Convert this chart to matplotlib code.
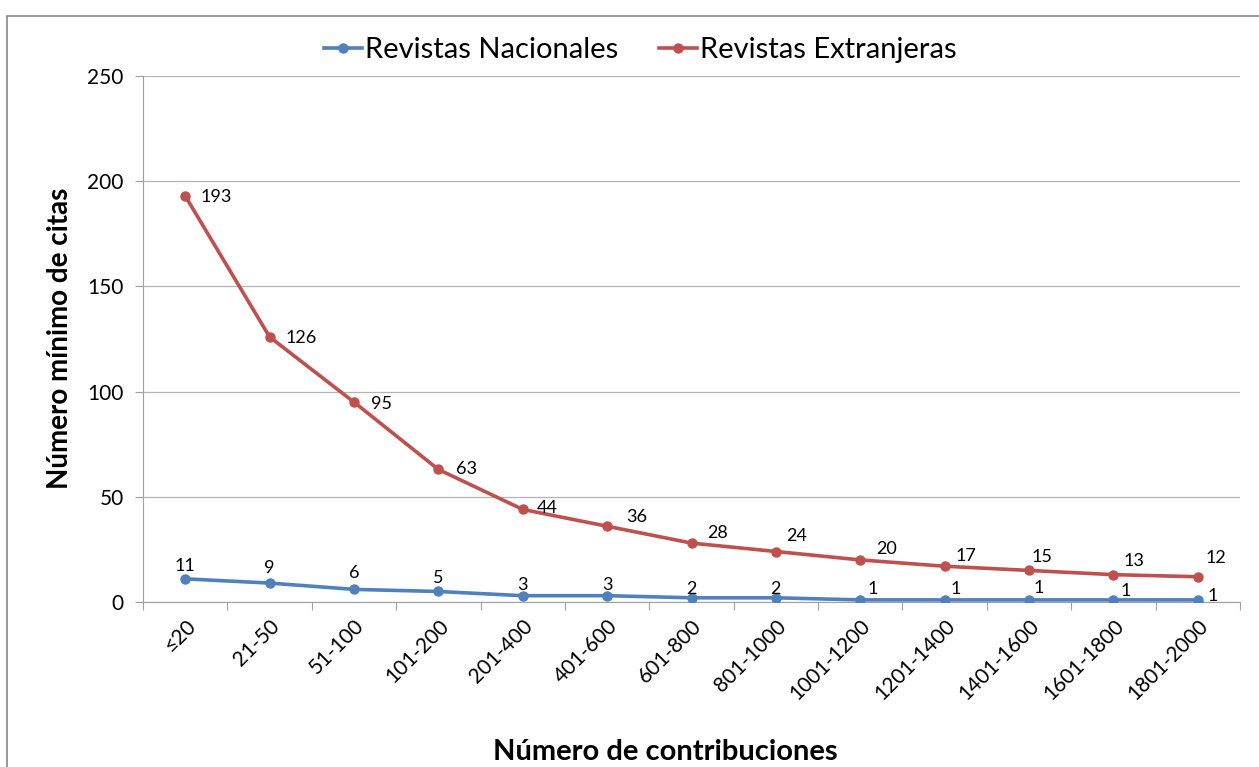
import matplotlib.pyplot as plt
from matplotlib.patches import Rectangle
import numpy as np

plt.rcParams['font.family'] = ['Lato', 'DejaVu Sans']

categorias = ['≤20', '21-50', '51-100', '101-200', '201-400', '401-600', '601-800',
              '801-1000', '1001-1200', '1201-1400', '1401-1600', '1601-1800', '1801-2000']
nacionales = [11, 9, 6, 5, 3, 3, 2, 2, 1, 1, 1, 1, 1]
extranjeras = [193, 126, 95, 63, 44, 36, 28, 24, 20, 17, 15, 13, 12]

# desplazamiento de las etiquetas (en pixeles, a partir del punto)
off_nac = [(0, 13), (0, 15), (0, 16), (0, 13), (0, 11), (0, 11), (0, 9), (0, 9),
           (7, 11), (6, 11), (4, 12), (7, 9), (10, 4)]
off_ext = [(15, -1), (16, -1), (17, -2), (18, 0), (14, 1), (19, 9), (16, 10), (10, 16),
           (16, 11), (11, 10), (2, 13), (10, 14), (8, 19)]

azul = '#4F81BD'
rojo = '#C0504D'

fig = plt.figure(figsize=(12.59, 7.67), dpi=100)
ax = fig.add_axes([143 / 1259, 1 - 602 / 767, (1240 - 143) / 1259, (602 - 76) / 767])

x = np.arange(len(categorias))
ax.plot(x, nacionales, color=azul, lw=2.6, marker='o', ms=6.5, label='Revistas Nacionales', zorder=3)
ax.plot(x, extranjeras, color=rojo, lw=2.6, marker='o', ms=6.5, label='Revistas Extranjeras', zorder=3)

px = 72 / 100  # pixeles a puntos
for i, v in enumerate(nacionales):
    dx, dy = off_nac[i]
    ax.annotate(str(v), (i, v), xytext=(dx * px, dy * px), textcoords='offset points',
                ha='center' if dx == 0 else 'left', va='center', fontsize=13)
for i, v in enumerate(extranjeras):
    dx, dy = off_ext[i]
    ax.annotate(str(v), (i, v), xytext=(dx * px, dy * px), textcoords='offset points',
                ha='left', va='center', fontsize=13)

ax.set_xlim(-0.5, len(categorias) - 0.5)
ax.set_ylim(0, 250)
ax.set_yticks([0, 50, 100, 150, 200, 250])
ax.yaxis.grid(True, color='#b4b4b4', lw=0.9)
ax.set_axisbelow(True)
ax.set_xticks(np.arange(len(categorias) + 1) - 0.5, minor=False)
ax.set_xticklabels([])
ax.set_xticks(x, minor=True)
ax.set_xticklabels(categorias, minor=True, rotation=45, ha='right', rotation_mode='anchor', fontsize=15)
ax.tick_params(axis='x', which='minor', length=0, pad=10)
ax.tick_params(axis='x', which='major', length=6, color='#a0a0a0', direction='out')
ax.tick_params(axis='y', length=6, color='#a0a0a0', labelsize=15, pad=8)

for s in ['top', 'right']:
    ax.spines[s].set_visible(False)
for s in ['left', 'bottom']:
    ax.spines[s].set_color('#a0a0a0')

fig.text(60 / 1259, 1 - 338 / 767, 'Número mínimo de citas', fontsize=20, fontweight='bold',
         rotation=90, ha='center', va='center')
fig.text(665 / 1259, 1 - 752 / 767, 'Número de contribuciones', fontsize=21, fontweight='bold',
         ha='center', va='center')

leg = fig.legend(loc='center', bbox_to_anchor=(640 / 1259, 1 - 50 / 767), ncol=2, frameon=False,
                 fontsize=21, handlelength=1.3, columnspacing=1.4, handletextpad=0.1)

fig.patches.append(Rectangle((7 / 1259, -0.05), 1.1, 1 - 16 / 767 + 0.05,
                             transform=fig.transFigure, fill=False, edgecolor='#888888', lw=1.2))

fig.savefig('out.png', dpi=100)
